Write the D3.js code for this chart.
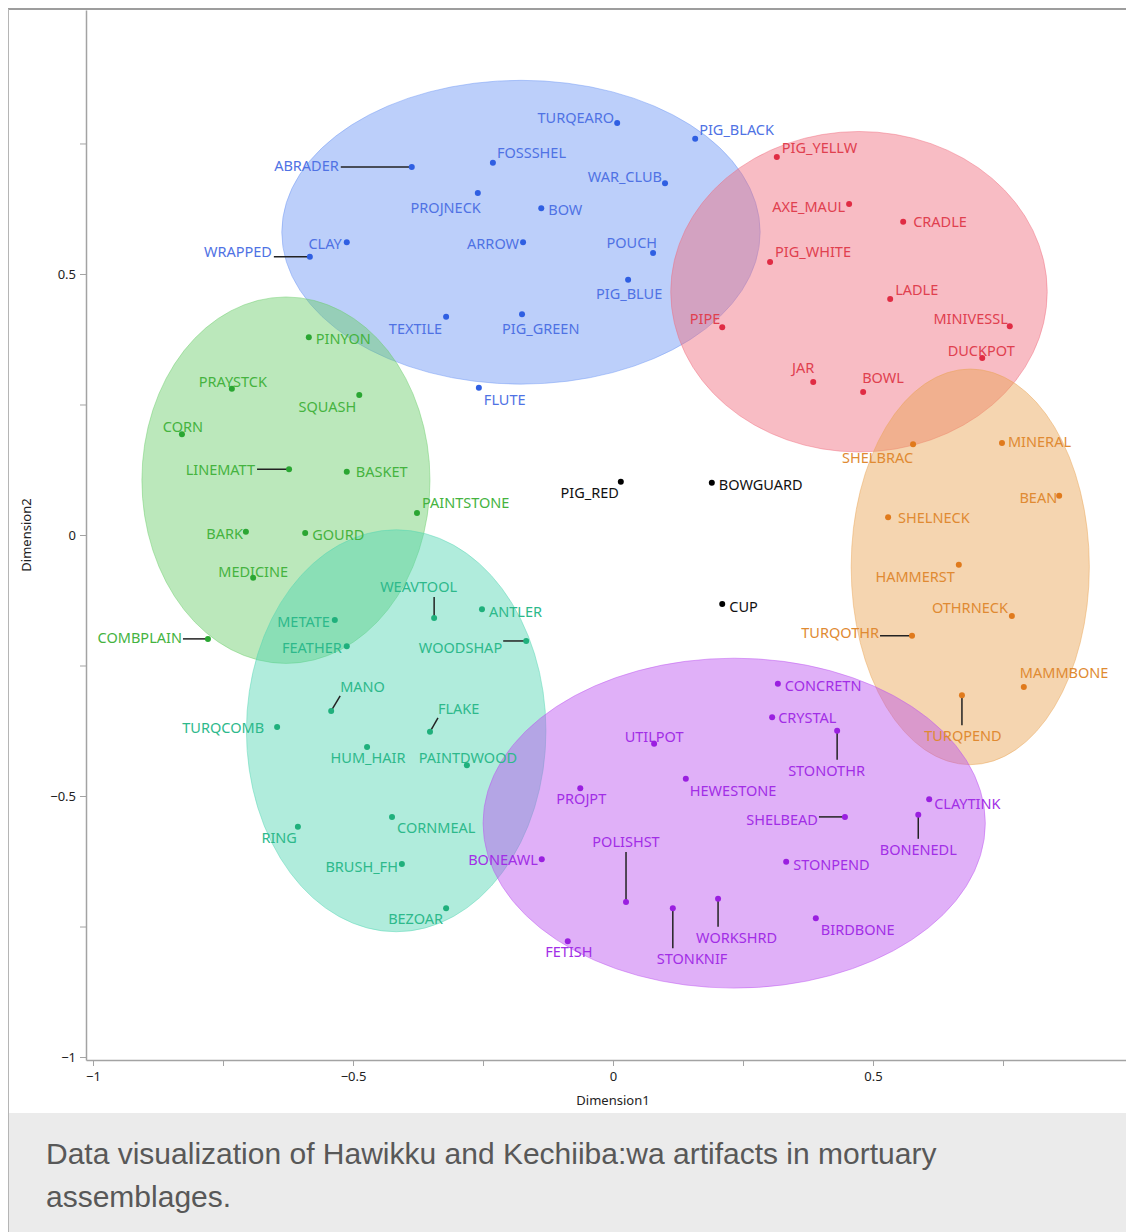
<!DOCTYPE html>
<html lang="en">
<head>
<meta charset="UTF-8">
<title>Hawikku and Kechiiba:wa artifacts</title>
<script src="https://cdn.jsdelivr.net/npm/d3@7"></script>
<style>
  html,body{margin:0;padding:0;background:#fff;}
  svg{display:block;}
  .lbl{font-family:"Noto Sans",sans-serif;font-size:14.5px;}
  .axis text{font-family:"Noto Sans",sans-serif;font-size:13px;fill:#222;}
  .axis path,.axis line{stroke:#a3a3a3;}
</style>
</head>
<body>
<svg id="chart" width="1126" height="1232"></svg>
<script>
// --- data: two MDS dimensions per artifact, grouped by cluster ---
var blueNames = ["TURQEARO","PIG_BLACK","ABRADER","FOSSSHEL","WAR_CLUB","PROJNECK","BOW","CLAY","WRAPPED","ARROW","POUCH","PIG_BLUE","TEXTILE","PIG_GREEN","FLUTE"];
var blueD1 = [0.008,0.158,-0.387,-0.231,0.100,-0.260,-0.138,-0.512,-0.583,-0.173,0.077,0.029,-0.321,-0.175,-0.258];
var blueD2 = [0.789,0.759,0.705,0.713,0.674,0.655,0.626,0.561,0.533,0.561,0.540,0.489,0.418,0.423,0.282];

var redNames = ["PIG_YELLW","AXE_MAUL","CRADLE","PIG_WHITE","LADLE","PIPE","MINIVESSL","DUCKPOT","JAR","BOWL"];
var redD1 = [0.315,0.454,0.558,0.302,0.533,0.210,0.763,0.710,0.385,0.481];
var redD2 = [0.724,0.634,0.600,0.523,0.452,0.398,0.400,0.339,0.293,0.274];

var orangeNames = ["SHELBRAC","MINERAL","BEAN","SHELNECK","HAMMERST","OTHRNECK","TURQOTHR","MAMMBONE","TURQPEND"];
var orangeD1 = [0.577,0.748,0.858,0.529,0.665,0.767,0.575,0.790,0.671];
var orangeD2 = [0.174,0.176,0.075,0.034,-0.057,-0.155,-0.193,-0.291,-0.307];

var greenNames = ["PINYON","PRAYSTCK","SQUASH","CORN","LINEMATT","BASKET","PAINTSTONE","BARK","GOURD","MEDICINE","COMBPLAIN"];
var greenD1 = [-0.585,-0.733,-0.488,-0.829,-0.623,-0.512,-0.377,-0.706,-0.592,-0.692,-0.779];
var greenD2 = [0.379,0.280,0.268,0.193,0.126,0.121,0.042,0.006,0.004,-0.082,-0.199];

var tealNames = ["WEAVTOOL","ANTLER","METATE","FEATHER","WOODSHAP","MANO","FLAKE","TURQCOMB","HUM_HAIR","PAINTDWOOD","CORNMEAL","RING","BRUSH_FH","BEZOAR"];
var tealD1 = [-0.344,-0.252,-0.535,-0.512,-0.167,-0.542,-0.352,-0.646,-0.473,-0.281,-0.425,-0.606,-0.406,-0.321];
var tealD2 = [-0.159,-0.142,-0.163,-0.213,-0.203,-0.337,-0.377,-0.368,-0.406,-0.441,-0.540,-0.559,-0.630,-0.715];

var purpleNames = ["CONCRETN","CRYSTAL","STONOTHR","UTILPOT","HEWESTONE","PROJPT","CLAYTINK","SHELBEAD","BONENEDL","POLISHST","BONEAWL","STONPEND","WORKSHRD","STONKNIF","BIRDBONE","FETISH"];
var purpleD1 = [0.317,0.306,0.431,0.079,0.140,-0.063,0.608,0.446,0.587,0.025,-0.137,0.333,0.202,0.115,0.390,-0.087];
var purpleD2 = [-0.285,-0.349,-0.375,-0.400,-0.467,-0.485,-0.506,-0.540,-0.536,-0.703,-0.621,-0.626,-0.697,-0.715,-0.734,-0.778];

var blackNames = ["PIG_RED","BOWGUARD","CUP"];
var blackD1 = [0.015,0.190,0.210];
var blackD2 = [0.102,0.100,-0.132];

// cluster ellipses (centre and radii, in dimension units)
var clusterKeys = ["blue","red","orange","green","teal","purple"];
var ellCx = [-0.177,0.473,0.687,-0.629,-0.417,0.233];
var ellCy = [0.580,0.466,-0.061,0.105,-0.375,-0.552];
var ellRx = [0.460,0.362,0.229,0.277,0.288,0.483];
var ellRy = [0.291,0.307,0.379,0.351,0.385,0.316];

var majorTicks = [-1,-0.5,0,0.5];
var minorTicks = [-0.75,-0.25,0.25,0.75];
var captionLines = ["Data visualization of Hawikku and Kechiiba:wa artifacts in mortuary","assemblages."];

// --- styles ---
var colors = {
  blue:   {fill:"#6a94f4", dot:"#2f5fe2", text:"#4f72e4"},
  red:    {fill:"#ef6a7c", dot:"#e02c44", text:"#e0404f"},
  orange: {fill:"#e9a24f", dot:"#e07a1c", text:"#e08a32"},
  green:  {fill:"#68cc68", dot:"#2aa632", text:"#45b33f"},
  teal:   {fill:"#4fd5b1", dot:"#1fb07c", text:"#2db98b"},
  purple: {fill:"#ba4fef", dot:"#9a1fe0", text:"#a22ee6"},
  black:  {fill:"none",    dot:"#000",    text:"#111"}
};

// label placement: [dx, dy, anchor, leaderDx, leaderDy]
var place = {
  TURQEARO:[-3,0,"end"], PIG_BLACK:[4,-4,"start"], ABRADER:[-73,4,"end",-71,0], FOSSSHEL:[4,-5,"start"],
  WAR_CLUB:[-3,-1,"end"], PROJNECK:[3,20,"end"], BOW:[7,7,"start"], CLAY:[-5,7,"end"], WRAPPED:[-38,0,"end",-36,0],
  ARROW:[-4,7,"end"], POUCH:[4,-5,"end"], PIG_BLUE:[1,19,"middle"], TEXTILE:[-4,17,"end"], PIG_GREEN:[-20,20,"start"],
  FLUTE:[5,17,"start"],
  PIG_YELLW:[5,-4,"start"], AXE_MAUL:[-4,8,"end"], CRADLE:[10,5,"start"], PIG_WHITE:[5,-5,"start"], LADLE:[5,-4,"start"],
  PIPE:[-2,-3,"end"], MINIVESSL:[-2,-2,"end"], DUCKPOT:[-1,-2,"middle"], JAR:[1,-9,"end"], BOWL:[-1,-9,"start"],
  SHELBRAC:[0,19,"end"], MINERAL:[6,4,"start"], BEAN:[-2,7,"end"], SHELNECK:[10,6,"start"], HAMMERST:[-4,17,"end"],
  OTHRNECK:[-4,-3,"end"], TURQOTHR:[-33,2,"end",-32,0], MAMMBONE:[-4,-9,"start"], TURQPEND:[1,46,"middle",0,30],
  PINYON:[7,7,"start"], PRAYSTCK:[1,-2,"middle"], SQUASH:[-3,17,"end"], CORN:[1,-2,"middle"], LINEMATT:[-34,6,"end",-32,0],
  BASKET:[9,5,"start"], PAINTSTONE:[5,-5,"start"], BARK:[-3,7,"end"], GOURD:[7,7,"start"], MEDICINE:[0,-1,"middle"],
  COMBPLAIN:[-26,4,"end",-25,0],
  WEAVTOOL:[-54,-26,"start",0,-21], ANTLER:[7,8,"start"], METATE:[-5,7,"end"], FEATHER:[-5,7,"end"], WOODSHAP:[-24,12,"end",-23,0],
  MANO:[9,-19,"start",9,-15], FLAKE:[8,-18,"start",8,-14], TURQCOMB:[-13,6,"end"], HUM_HAIR:[1,16,"middle"],
  PAINTDWOOD:[1,-2,"middle"], CORNMEAL:[5,16,"start"], RING:[-1,16,"end"], BRUSH_FH:[-4,8,"end"], BEZOAR:[-3,16,"end"],
  CONCRETN:[7,7,"start"], CRYSTAL:[6,6,"start"], STONOTHR:[-49,45,"start",0,29], UTILPOT:[0,-2,"middle"],
  HEWESTONE:[4,17,"start"], PROJPT:[1,16,"middle"], CLAYTINK:[5,10,"start"], SHELBEAD:[-27,8,"end",-26,0],
  BONENEDL:[0,40,"middle",0,24], POLISHST:[0,-55,"middle",0,-50], BONEAWL:[-4,6,"end"], STONPEND:[7,8,"start"],
  WORKSHRD:[-22,44,"start",0,28], STONKNIF:[-16,56,"start",0,40], BIRDBONE:[5,17,"start"], FETISH:[1,16,"middle"],
  PIG_RED:[-2,16,"end"], BOWGUARD:[7,7,"start"], CUP:[7,8,"start"]
};

var svg = d3.select("#chart");
var x = d3.scaleLinear().domain([-1.0135, 0.9865]).range([86, 1126]);
var y = d3.scaleLinear().domain([-1.0057, 1.0057]).range([1060, 10]);

// frame and caption band
svg.append("rect").attr("x",9).attr("y",1113).attr("width",1117).attr("height",119).attr("fill","#ebebeb");
svg.append("line").attr("x1",8).attr("x2",1126).attr("y1",9).attr("y2",9).attr("stroke","#9d9d9d").attr("stroke-width",2);
svg.append("line").attr("x1",8.5).attr("x2",8.5).attr("y1",9).attr("y2",1232).attr("stroke","#b5b5b5");

captionLines.forEach(function(t,i){
  svg.append("text").attr("x",46).attr("y",1164+i*43).text(t)
    .attr("font-family","'Liberation Sans',Arial,sans-serif").attr("font-size",30).attr("fill","#585858");
});

// axes
svg.append("g").attr("class","axis").attr("transform","translate(0,1060)")
  .call(d3.axisBottom(x).tickValues(majorTicks).tickSizeInner(6).tickSizeOuter(0).tickPadding(6).tickFormat(d3.format("")));
svg.append("g").attr("class","axis").attr("transform","translate(0,1060)")
  .call(d3.axisBottom(x).tickValues(minorTicks).tickSizeInner(6).tickSizeOuter(0).tickFormat("")).select(".domain").remove();
svg.append("g").attr("class","axis").attr("transform","translate(86,0)")
  .call(d3.axisLeft(y).tickValues(majorTicks).tickSizeInner(6).tickSizeOuter(0).tickPadding(4).tickFormat(d3.format("")));
svg.append("g").attr("class","axis").attr("transform","translate(86,0)")
  .call(d3.axisLeft(y).tickValues(minorTicks).tickSizeInner(6).tickSizeOuter(0).tickFormat("")).select(".domain").remove();
svg.selectAll(".axis .domain").attr("stroke-width",1.5);

svg.append("text").attr("x",613).attr("y",1105).attr("text-anchor","middle")
  .attr("font-family","'Noto Sans',sans-serif").attr("font-size",13).attr("fill","#222").text("Dimension1");
svg.append("text").attr("transform","translate(31,535) rotate(-90)").attr("text-anchor","middle")
  .attr("font-family","'Noto Sans',sans-serif").attr("font-size",13).attr("fill","#222").text("Dimension2");

// ellipses
clusterKeys.forEach(function(k,i){
  svg.append("ellipse")
    .attr("cx",x(ellCx[i])).attr("cy",y(ellCy[i]))
    .attr("rx",x(ellCx[i]+ellRx[i])-x(ellCx[i])).attr("ry",y(ellCy[i])-y(ellCy[i]+ellRy[i]))
    .attr("fill",colors[k].fill).attr("fill-opacity",0.45)
    .attr("stroke",colors[k].fill).attr("stroke-opacity",0.45);
});

// points
var pts = [];
function addGroup(key, names, d1, d2){
  names.forEach(function(n,i){ pts.push({name:n, d1:d1[i], d2:d2[i], key:key}); });
}
addGroup("blue",blueNames,blueD1,blueD2);
addGroup("red",redNames,redD1,redD2);
addGroup("orange",orangeNames,orangeD1,orangeD2);
addGroup("green",greenNames,greenD1,greenD2);
addGroup("teal",tealNames,tealD1,tealD2);
addGroup("purple",purpleNames,purpleD1,purpleD2);
addGroup("black",blackNames,blackD1,blackD2);

pts.forEach(function(p){
  var px = x(p.d1), py = y(p.d2), pl = place[p.name] || [6,5,"start"];
  if (pl.length > 3) {
    svg.append("line").attr("x1",px).attr("y1",py).attr("x2",px+pl[3]).attr("y2",py+pl[4])
      .attr("stroke","#222").attr("stroke-width",1.5);
  }
  svg.append("text").attr("class","lbl").attr("x",px+pl[0]).attr("y",py+pl[1])
    .attr("text-anchor",pl[2]).attr("fill",colors[p.key].text).text(p.name);
});
svg.selectAll("circle.pt").data(pts).enter().append("circle").attr("class","pt")
  .attr("cx",function(d){return x(d.d1);}).attr("cy",function(d){return y(d.d2);})
  .attr("r",3).attr("fill",function(d){return colors[d.key].dot;});
</script>
</body>
</html>
